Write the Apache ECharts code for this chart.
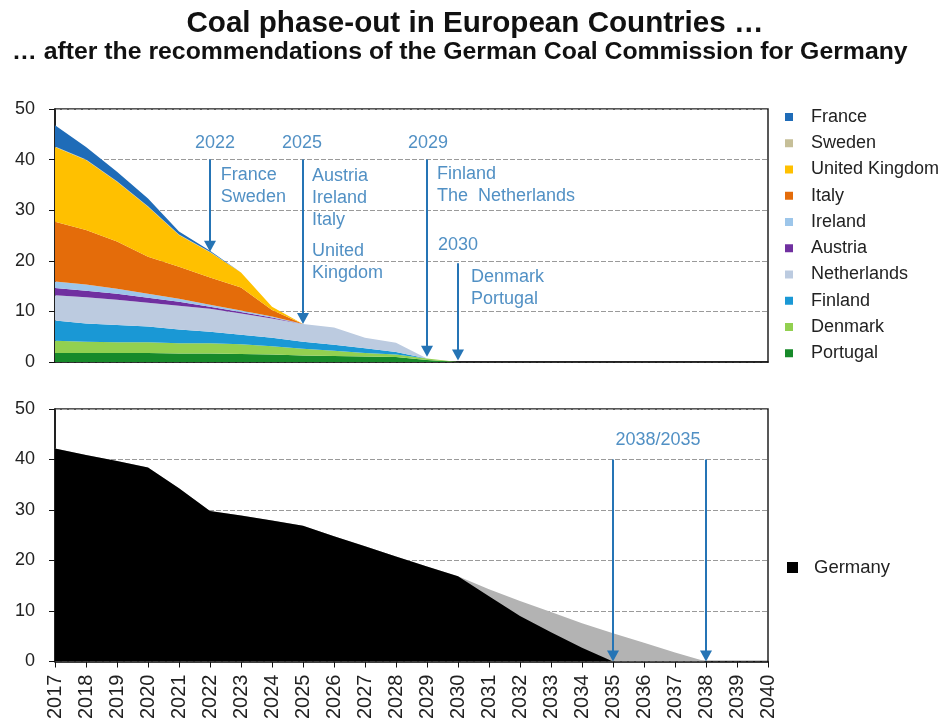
<!DOCTYPE html>
<html>
<head>
<meta charset="utf-8">
<script src="https://cdn.jsdelivr.net/npm/echarts@6/dist/echarts.min.js"></script>
<style>
html,body{margin:0;padding:0;background:#fff;}
#chart{width:950px;height:722px;}
</style>
</head>
<body>
<div id="chart"></div>
<script>
// ---------- data ----------
const axisYears = ['2017','2018','2019','2020','2021','2022','2023','2024','2025','2026','2027','2028',
                   '2029','2030','2031','2032','2033','2034','2035','2036','2037','2038','2039','2040'];
// European countries, yearly values 2017..2030
const portugal    = [1.8,1.8,1.8,1.8,1.7,1.7,1.6,1.5,1.3,1.2,1.1,1.0,0.4,0];
const denmark     = [2.4,2.2,2.1,2.1,2.0,2.0,1.9,1.6,1.3,1.0,0.7,0.5,0.3,0];
const finland     = [4.0,3.6,3.4,3.1,2.7,2.3,1.9,1.7,1.4,1.2,0.9,0.5,0,0];
const netherlands = [5.0,5.2,5.0,4.7,4.7,4.5,4.2,3.8,3.5,3.4,2.1,1.8,0,0];
const austria     = [1.4,1.3,1.2,1.0,0.8,0.4,0.3,0.2,0,0,0,0,0,0];
const ireland     = [1.3,1.2,1.0,0.8,0.6,0.4,0.3,0.2,0,0,0,0,0,0];
const italy       = [11.8,10.8,9.3,7.3,6.3,5.4,4.5,1.3,0,0,0,0,0,0];
const uk          = [14.8,13.8,11.8,9.9,6.3,5.0,3.0,0.6,0,0,0,0,0,0];
const sweden      = [0.1,0.1,0.1,0.1,0.1,0.1,0,0,0,0,0,0,0,0];
const france      = [4.2,2.5,1.9,1.5,0.6,0.2,0,0,0,0,0,0,0,0];
// Germany, 2017..2035 (black) and 2017..2038 (grey)
const germany35 = [42.2,40.9,39.7,38.4,34.3,29.8,28.9,27.9,26.9,24.8,22.8,20.8,18.8,16.9,12.9,9.0,5.8,2.7,0];
const germany38 = [42.2,40.9,39.7,38.4,34.3,29.8,28.9,27.9,26.9,24.8,22.8,20.8,18.8,16.9,14.3,12.0,9.8,7.6,5.6,3.7,1.8,0];

// annotations (data coordinates: year, value)
const topArrows = [[2022,40,21.8],[2025,40,7.5],[2029,40,1.0],[2030,19.5,0.3]]; // [year, from, tip]
const bottomArrows = [[2035,40,0],[2038,40,0]];
const topYearLabels = [['2022',2022.16,43.3],['2025',2024.97,43.3],['2029',2029.03,43.3],['2030',2030.0,23.1]];
const topCountryLabels = [
  ['France\nSweden',2022.35,39.1],
  ['Austria\nIreland\nItaly',2025.29,38.9],
  ['United\nKingdom',2025.29,24.1],
  ['Finland\nThe  Netherlands',2029.32,39.3],
  ['Denmark\nPortugal',2030.42,19.0]
];
const bottomLabels = [['2038/2035',2036.45,43.9]];

// ---------- styles ----------
const FONT = 'Liberation Sans, Arial, sans-serif';
const BLUE = '#2574b5';
const colors = {
  France:'#1f6cb8', Sweden:'#c6bf98', 'United Kingdom':'#ffc000', Italy:'#e46c0a',
  Ireland:'#9dc6ea', Austria:'#7030a0', Netherlands:'#bccbe0', Finland:'#1a98d5',
  Denmark:'#92d050', Portugal:'#178a2a'
};
const stackOrder = [
  ['Portugal',portugal],['Denmark',denmark],['Finland',finland],['Netherlands',netherlands],
  ['Austria',austria],['Ireland',ireland],['Italy',italy],['United Kingdom',uk],
  ['Sweden',sweden],['France',france]
];
const legendOrder = ['France','Sweden','United Kingdom','Italy','Ireland','Austria','Netherlands','Finland','Denmark','Portugal'];

const series = stackOrder.map(([name,vals])=>({
  name, type:'line', xAxisIndex:0, yAxisIndex:0, stack:'eu',
  data: vals, symbol:'none', smooth:false,
  lineStyle:{width:0}, areaStyle:{color:colors[name], opacity:1},
  itemStyle:{color:colors[name]}, emphasis:{disabled:true}, z:2
}));

series.push({
  name:'Germany 2038', type:'line', xAxisIndex:1, yAxisIndex:1,
  data: germany38, symbol:'none',
  lineStyle:{width:0}, areaStyle:{color:'#b3b3b3', opacity:1},
  itemStyle:{color:'#b3b3b3'}, emphasis:{disabled:true}, z:2
});
series.push({
  name:'Germany', type:'line', xAxisIndex:1, yAxisIndex:1,
  data: germany35, symbol:'none',
  lineStyle:{width:0}, areaStyle:{color:'#000', opacity:1},
  itemStyle:{color:'#000'}, emphasis:{disabled:true}, z:3
});

function arrowSeries(arrows, xi, yi){
  return {
    type:'line', xAxisIndex:xi, yAxisIndex:yi, data:[], silent:true, z:5,
    markLine:{
      silent:true, animation:false,
      symbol:['none','triangle'], symbolSize:[12,11],
      lineStyle:{color:BLUE, width:2, type:'solid'},
      label:{show:false},
      data: arrows.map(a=>[{coord:[a[0],a[1]]},{coord:[a[0],a[2]+1.1]}])
    }
  };
}
series.push(arrowSeries(topArrows,2,0));
series.push(arrowSeries(bottomArrows,3,1));

function labelSeries(items, xi, yi, align, vAlign){
  return {
    type:'scatter', xAxisIndex:xi, yAxisIndex:yi, symbolSize:0, silent:true, z:6,
    data: items.map(it=>({value:[it[1],it[2]], name:it[0]})),
    label:{show:true, position:[0,0], formatter:p=>p.name, color:BLUE,
      fontSize:18, fontFamily:FONT, lineHeight:22, align:align, verticalAlign:vAlign}
  };
}
series.push(labelSeries(topYearLabels,2,0,'center','middle'));
series.push(labelSeries(topCountryLabels,2,0,'left','top'));
series.push(labelSeries(bottomLabels,3,1,'center','middle'));

const yCommon = {
  type:'value', min:0, max:50, interval:10,
  axisLine:{show:true, lineStyle:{color:'#111', width:1.5}},
  axisTick:{show:true, length:6, lineStyle:{color:'#111'}},
  axisLabel:{fontSize:18, color:'#222', fontFamily:FONT, margin:20},
  splitLine:{show:true, lineStyle:{color:'#9a9a9a', type:[5,2], width:1}}
};
const hiddenValueX = {type:'value', min:2017, max:2040, interval:1, show:false};

const option = {
  backgroundColor:'#fff',
  animation:false,
  title:[
    {text:'Coal phase-out in European Countries …', left:'center', top:4,
     textStyle:{fontSize:29.6, fontWeight:'bold', color:'#111', fontFamily:FONT}},
    {text:'… after the recommendations of the German Coal Commission for Germany', left:7, top:35,
     textStyle:{fontSize:24.8, fontWeight:'bold', color:'#111', fontFamily:FONT}}
  ],
  legend:[
    {data:legendOrder, orient:'vertical', left:780, top:103, icon:'rect',
     itemWidth:8, itemHeight:8, itemGap:8.25, selectedMode:false,
     textStyle:{fontSize:18, color:'#222', fontFamily:FONT, lineHeight:18, padding:[0,0,0,13]}},
    {data:['Germany'], orient:'vertical', left:782, top:553, icon:'rect',
     itemWidth:11, itemHeight:11, selectedMode:false,
     textStyle:{fontSize:18.5, color:'#222', fontFamily:FONT, padding:[0,0,0,11]}}
  ],
  grid:[
    {left:55, right:182, top:109, height:253, show:true, borderColor:'#222', borderWidth:1.5, backgroundColor:'transparent'},
    {left:55, right:182, top:409, height:253, show:true, borderColor:'#222', borderWidth:1.5, backgroundColor:'transparent'}
  ],
  xAxis:[
    {type:'category', data:axisYears, boundaryGap:false, gridIndex:0,
      axisLine:{show:true, lineStyle:{color:'#111', width:1.5}},
      axisTick:{show:false}, axisLabel:{show:false}, splitLine:{show:false}},
    {type:'category', data:axisYears, boundaryGap:false, gridIndex:1,
      axisLine:{show:true, lineStyle:{color:'#111', width:1.5}},
      axisTick:{show:true, length:6, interval:0, lineStyle:{color:'#111'}},
      axisLabel:{rotate:90, interval:0, fontSize:20, color:'#222', fontFamily:FONT, margin:13},
      splitLine:{show:false}},
    Object.assign({gridIndex:0}, hiddenValueX),
    Object.assign({gridIndex:1}, hiddenValueX)
  ],
  yAxis:[
    Object.assign({}, yCommon, {gridIndex:0}),
    Object.assign({}, yCommon, {gridIndex:1})
  ],
  series
};

const chart = echarts.init(document.getElementById('chart'), null, {renderer:'canvas'});
chart.setOption(option);
</script>
</body>
</html>
